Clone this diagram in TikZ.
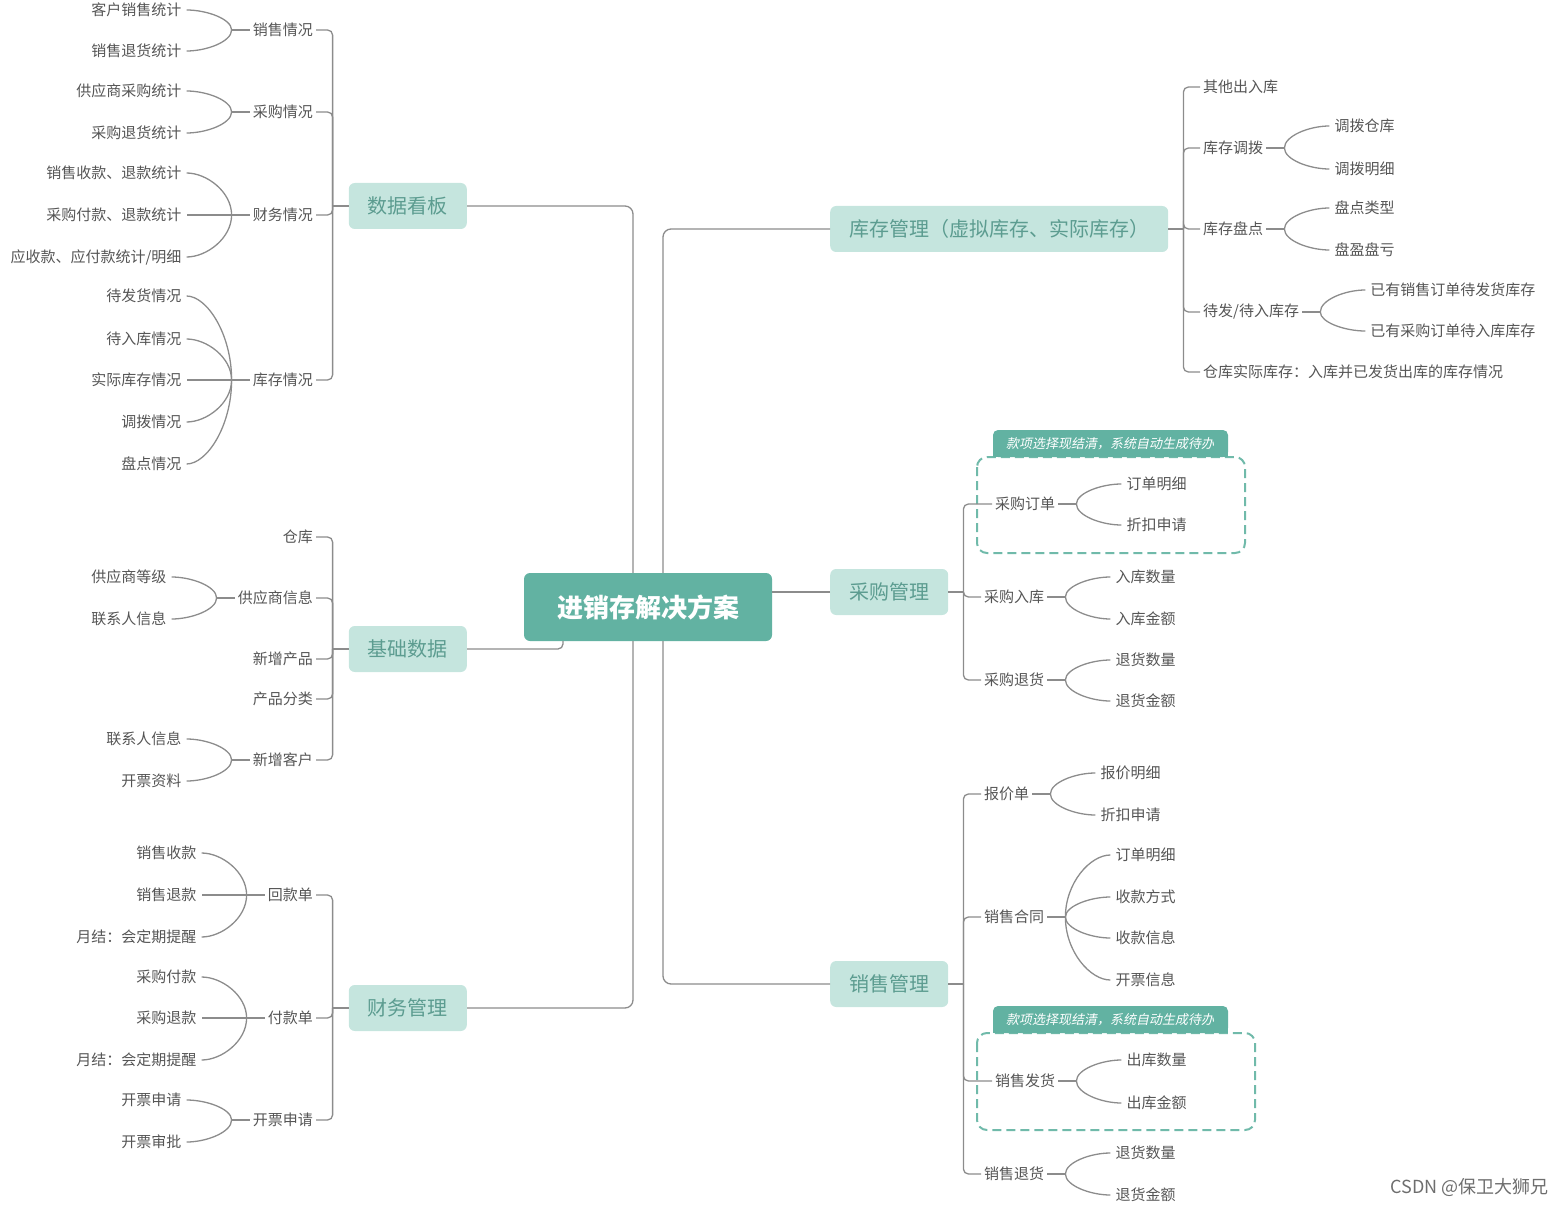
\documentclass[tikz,border=0pt]{standalone}
\usepackage{fontspec}
\setmainfont{Noto Sans CJK SC}
\newfontfamily\tagfont[FakeSlant=0.2]{Noto Sans CJK SC}
\usetikzlibrary{calc, positioning}
\definecolor{rootc}{RGB}{98,178,162}
\definecolor{topicc}{RGB}{197,229,222}
\definecolor{topictext}{RGB}{92,156,144}
\definecolor{linec}{RGB}{140,140,140}
\definecolor{textc}{RGB}{85,85,85}
\definecolor{dashc}{RGB}{112,186,170}
\definecolor{wmc}{RGB}{110,110,110}

\begin{document}
\begin{tikzpicture}[x=1pt, y=-1pt,
  conn/.style={draw=linec, line width=1.3pt},
  root/.style={fill=rootc, text=white, rounded corners=6pt, minimum width=248pt, minimum height=68pt, font=\fontsize{26}{30}\selectfont\bfseries},
  topic/.style={fill=topicc, text=topictext, rounded corners=6pt, minimum height=46pt, inner xsep=19pt, font=\fontsize{20}{24}\selectfont},
  sub/.style={text=textc, inner xsep=3pt, inner ysep=2pt, font=\fontsize{15}{18}\selectfont},
  leaf/.style={text=textc, inner xsep=5pt, inner ysep=2pt, font=\fontsize{15}{18}\selectfont},
  tagbox/.style={draw=dashc, dash pattern=on 9pt off 5pt, line width=2pt, rounded corners=10pt},
  tagtext/.style={text=white, font=\tagfont\fontsize{13}{16}\selectfont}
]
\useasboundingbox (0,0) rectangle (1566,1206);

% dashed groups with their tags
\draw[tagbox] (977,457) rectangle (1245,553);
\fill[rootc, rounded corners=5pt] (993,430) rectangle (1228,457);
\fill[rootc] (993,450) rectangle (1228,457);
\node[tagtext] (tagA) at (1110,443.5) {款项选择现结清，系统自动生成待办};
\draw[tagbox] (977,1033) rectangle (1255,1130);
\fill[rootc, rounded corners=5pt] (993,1006) rectangle (1228,1033);
\fill[rootc] (993,1026) rectangle (1228,1033);
\node[tagtext] (tagB) at (1110,1019.5) {款项选择现结清，系统自动生成待办};

% centre and main branches
\node[root] (root) at (648,607) {进销存解决方案};
\node[topic, anchor=east] (kb) at (467,206) {数据看板};
\node[topic, anchor=east] (jc) at (467,649) {基础数据};
\node[topic, anchor=east] (cw) at (467,1008) {财务管理};
\node[topic, anchor=west] (kg) at (830,229) {库存管理（虚拟库存、实际库存）};
\node[topic, anchor=west] (cg) at (830,592) {采购管理};
\node[topic, anchor=west] (xs) at (830,984) {销售管理};

\draw[conn, rounded corners=8pt] (kb.east) -| ($(root.north)+(-15,0)$);
\draw[conn, rounded corners=8pt] (cw.east) -| ($(root.south)+(-15,0)$);
\draw[conn, rounded corners=5pt] (jc.east) -| ($(root.south)+(-85,0)$);
\draw[conn, rounded corners=8pt] (kg.west) -| ($(root.north)+(15,0)$);
\draw[conn, rounded corners=8pt] (xs.west) -| ($(root.south)+(15,0)$);
\draw[conn] (cg.west) -- (cg.west -| root.east);

% trunks
\foreach \m in {kb,jc,cw}
  \draw[conn] (\m.west) -- ++(-16,0) coordinate (\m-t);
\foreach \m in {kg,cg,xs}
  \draw[conn] (\m.east) -- ++(15,0) coordinate (\m-t);

% left side sub topics
\foreach \m/\n/\y/\t in {kb/kbA/30/销售情况, kb/kbB/112/采购情况, kb/kbC/215/财务情况, kb/kbD/380/库存情况,
    jc/jcA/537/仓库, jc/jcB/598/供应商信息, jc/jcC/659/新增产品, jc/jcD/699/产品分类, jc/jcE/760/新增客户,
    cw/cwA/895/回款单, cw/cwB/1018/付款单, cw/cwC/1120/开票申请}{
  \node[sub, anchor=east] (\n) at (316,\y) {\t};
  \draw[conn, rounded corners=5pt] (\m-t) |- (\n.east);
}
\foreach \n in {kbA,kbB,kbC,kbD,jcB,jcE,cwA,cwB,cwC}{
  \draw[conn] (\n.west) -- ++(-18,0) coordinate (\n-f);
  \coordinate (\n-e) at ($(\n-f)+(-45,0)$);
}

% right side sub topics
\foreach \m/\n/\x/\y/\t in {kg/kgA/1200/87/其他出入库, kg/kgB/1200/148/库存调拨, kg/kgC/1200/229/库存盘点,
    kg/kgD/1200/312/{待发/待入库存}, kg/kgE/1200/372/仓库实际库存：入库并已发货出库的库存情况,
    cg/cgA/992/504/采购订单, cg/cgB/981/597/采购入库, cg/cgC/981/680/采购退货,
    xs/xsA/981/794/报价单, xs/xsB/981/917/销售合同, xs/xsC/992/1081/销售发货, xs/xsD/981/1174/销售退货}{
  \node[sub, anchor=west] (\n) at (\x,\y) {\t};
  \draw[conn, rounded corners=5pt] (\m-t) |- (\n.west);
}
\foreach \n in {kgB,kgC,kgD,cgA,cgB,cgC,xsA,xsB,xsC,xsD}{
  \draw[conn] (\n.east) -- ++(18,0) coordinate (\n-f);
  \coordinate (\n-e) at ($(\n-f)+(45,0)$);
}

% left leaves
\foreach \p/\n/\y/\t in {kbA/kbA1/10/客户销售统计, kbA/kbA2/51/销售退货统计,
    kbB/kbB1/91/供应商采购统计, kbB/kbB2/133/采购退货统计,
    kbC/kbC1/173/销售收款、退款统计, kbC/kbC2/215/采购付款、退款统计, kbC/kbC3/257/{应收款、应付款统计/明细},
    kbD/kbD1/296/待发货情况, kbD/kbD2/339/待入库情况, kbD/kbD3/380/实际库存情况, kbD/kbD4/422/调拨情况, kbD/kbD5/464/盘点情况,
    jcB/jcB1/577/供应商等级, jcB/jcB2/619/联系人信息,
    jcE/jcE1/739/联系人信息, jcE/jcE2/781/开票资料,
    cwA/cwA1/853/销售收款, cwA/cwA2/895/销售退款, cwA/cwA3/937/月结：会定期提醒,
    cwB/cwB1/977/采购付款, cwB/cwB2/1018/采购退款, cwB/cwB3/1060/月结：会定期提醒,
    cwC/cwC1/1100/开票申请, cwC/cwC2/1142/开票审批}{
  \node[leaf, anchor=east] (\n) at (\p-e |- 0,\y) {\t};
  \draw[conn] (\p-f) .. controls ($(\p-f)!0.55!(\p-f |- \n.east)$) and ($(\n.east)!0.45!(\p-f |- \n.east)$) .. (\n.east);
}

% right leaves
\foreach \p/\n/\y/\t in {kgB/kgB1/126/调拨仓库, kgB/kgB2/169/调拨明细,
    kgC/kgC1/208/盘点类型, kgC/kgC2/250/盘盈盘亏,
    kgD/kgD1/290/已有销售订单待发货库存, kgD/kgD2/331/已有采购订单待入库库存,
    cgA/cgA1/484/订单明细, cgA/cgA2/525/折扣申请,
    cgB/cgB1/577/入库数量, cgB/cgB2/619/入库金额,
    cgC/cgC1/660/退货数量, cgC/cgC2/701/退货金额,
    xsA/xsA1/773/报价明细, xsA/xsA2/815/折扣申请,
    xsB/xsB1/855/订单明细, xsB/xsB2/897/收款方式, xsB/xsB3/938/收款信息, xsB/xsB4/980/开票信息,
    xsC/xsC1/1060/出库数量, xsC/xsC2/1103/出库金额,
    xsD/xsD1/1153/退货数量, xsD/xsD2/1195/退货金额}{
  \node[leaf, anchor=west] (\n) at (\p-e |- 0,\y) {\t};
  \draw[conn] (\p-f) .. controls ($(\p-f)!0.55!(\p-f |- \n.west)$) and ($(\n.west)!0.45!(\p-f |- \n.west)$) .. (\n.west);
}

\node[text=wmc, anchor=east, font=\fontsize{18}{22}\selectfont] (wm) at (1552,1187) {CSDN @保卫大狮兄};
\end{tikzpicture}
\end{document}
